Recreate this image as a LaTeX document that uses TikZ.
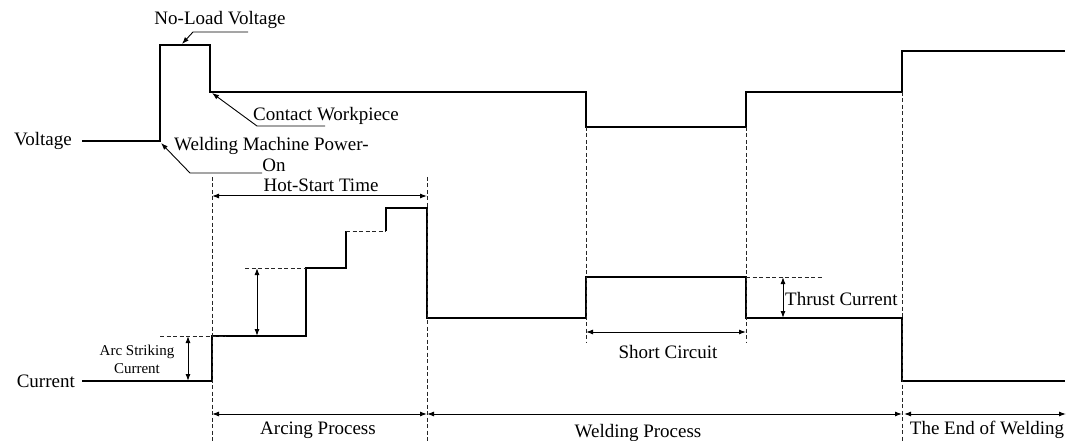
\documentclass[tikz,border=0pt]{standalone}
\usepackage{fontspec}
\setmainfont{Liberation Serif}
\usetikzlibrary{arrows.meta}

\begin{document}
\begin{tikzpicture}[
  x=1pt, y=-1pt,
  wave/.style={line width=2.4pt, line join=miter},
  guide/.style={line width=0.8pt, dash pattern=on 4pt off 2.5pt, black!85},
  dim/.style={{Latex[length=7pt,width=5pt]}-{Latex[length=7pt,width=5pt]}, line width=1pt},
  lead/.style={-{Latex[length=7pt,width=5pt]}, line width=0.9pt},
  lbl/.style={font=\fontsize{19}{21}\selectfont, inner sep=0pt},
  small/.style={font=\fontsize{15}{18}\selectfont, align=center, inner sep=0pt}
]
\useasboundingbox (0,0) rectangle (1069,441);

% time marks
\coordinate (tOn) at (160,0);
\coordinate (tArc) at (212,0);
\coordinate (tHot) at (427,0);
\coordinate (tScA) at (586,0);
\coordinate (tScB) at (746,0);
\coordinate (tEnd) at (902,0);

% voltage curve
\draw[wave] (82,141) -- (160,141) -- (160,45) -- (210,45) -- (210,92)
  -- (586,92) -- (586,127) -- (746,127) -- (746,92) -- (902,92)
  -- (902,51) -- (1065,51);

% current curve
\draw[wave] (82,381) -- (212,381) -- (212,336) -- (306,336) -- (306,268)
  -- (346,268) -- (346,231);
\draw[wave] (386,231) -- (386,208) -- (427,208) -- (427,318) -- (586,318)
  -- (586,277) -- (746,277) -- (746,318) -- (902,318) -- (902,381)
  -- (1065,381);

% guide lines
\draw[guide] (tArc |- 0,177) -- (tArc |- 0,441);
\draw[guide] (tHot |- 0,177) -- (tHot |- 0,441);
\draw[guide] (tScA |- 0,127) -- (tScA |- 0,343);
\draw[guide] (tScB |- 0,127) -- (tScB |- 0,343);
\draw[guide] (tEnd |- 0,92) -- (tEnd |- 0,441);
\draw[guide] (160,336) -- (226,336);
\draw[guide] (245,268) -- (306,268);
\draw[guide] (346,231) -- (386,231);
\draw[guide] (746,277) -- (822,277);

% labels
\node[lbl, anchor=east] (volt) at (72,141) {Voltage};
\node[lbl, anchor=east] (curr) at (75,381) {Current};
\node[lbl] (noload) at (220,20) {No-Load Voltage};
\node[lbl] (contact) at (326,116) {Contact Workpiece};
\node[lbl, anchor=west] (power) at (174,146) {Welding Machine Power-};
\node[lbl] (poweron) at (274,165) {On};
\node[lbl] (hotstart) at (321,185) {Hot-Start Time};
\node[small] (arcstrike) at (137,359) {Arc Striking\\Current};
\node[lbl, anchor=west] (thrust) at (785,299) {Thrust Current};
\node[lbl] (short) at (668,352) {Short Circuit};
\node[lbl] (arcing) at (318,430) {Arcing Process};
\node[lbl] (welding) at (638,433) {Welding Process};
\node[lbl] (endweld) at (987,430) {The End of Welding};

% leaders
\coordinate (noloadA) at (248,32);
\coordinate (noloadB) at (193,32);
\coordinate (noloadT) at (182,44);
\draw[lead] (noloadA) -- (noloadB) -- (noloadT);
\coordinate (contactA) at (325,126);
\coordinate (contactB) at (257,126);
\coordinate (contactT) at (212,93);
\draw[lead] (contactA) -- (contactB) -- (contactT);
\coordinate (powerA) at (262,173);
\coordinate (powerB) at (190,173);
\coordinate (powerT) at (161,143);
\draw[lead] (powerA) -- (powerB) -- (powerT);

% dimension arrows
\draw[dim] (tArc |- 0,196) -- (tHot |- 0,196);
\draw[dim] (257,268) -- (257,336);
\draw[dim] (188,336) -- (188,381);
\draw[dim] (783,277) -- (783,318);
\draw[dim] (tScA |- 0,332) -- (tScB |- 0,332);
\draw[dim] (tArc |- 0,414) -- (tHot |- 0,414);
\draw[dim] (tHot |- 0,414) -- (tEnd |- 0,414);
\draw[dim] (904,414) -- (1066,414);
\end{tikzpicture}
\end{document}
